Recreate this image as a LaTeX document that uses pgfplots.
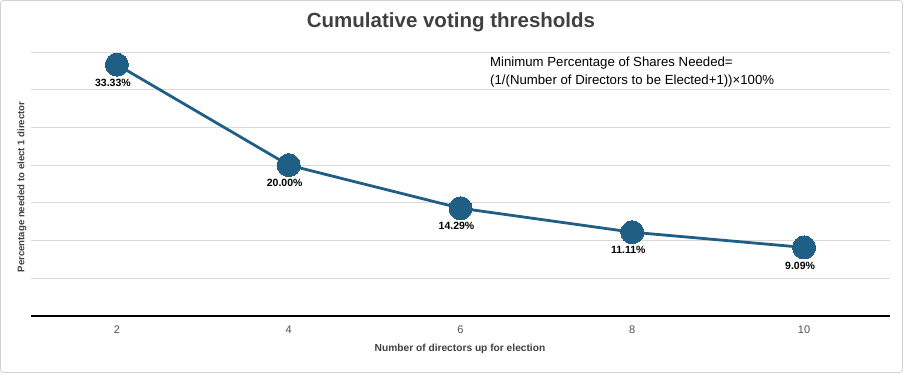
\documentclass[border=0pt]{standalone}
\usepackage{pgfplots}
\pgfplotsset{compat=1.18}
\usepackage{fontspec}
\setmainfont{Liberation Sans}
\definecolor{lineblue}{HTML}{1F5F86}
\definecolor{titlegray}{HTML}{404040}
\definecolor{gridgray}{HTML}{D9D9D9}
\definecolor{tickgray}{HTML}{505050}
\begin{document}
\begin{tikzpicture}[x=1pt,y=1pt]
\path (0,0) rectangle (903,373);
\draw[gray!35, line width=0.8pt, rounded corners=3pt] (0.5,0.5) rectangle (902.5,372.5);
\begin{axis}[
  at={(31pt,57pt)}, anchor=south west,
  scale only axis, width=859pt, height=264pt,
  xmin=1, xmax=11, ymin=0, ymax=35,
  xtick={2,4,6,8,10},
  ytick={0,5,10,15,20,25,30,35},
  yticklabels={},
  axis x line=bottom, axis y line=left,
  x axis line style={-, black, line width=1.4pt},
  y axis line style={draw=none},
  major tick style={draw=none},
  ymajorgrids, grid style={gridgray, line width=0.9pt},
  xticklabel style={font=\fontsize{11}{12}\selectfont, text=tickgray, yshift=-4pt},
  /pgf/number format/assume math mode=true,
  clip=false,
  point meta=explicit symbolic,
  nodes near coords,
  nodes near coords style={font=\bfseries\fontsize{10.5}{12}\selectfont, text=black, anchor=center, yshift=-18pt, xshift=-4pt},
]
\addplot[color=lineblue, line width=2.8pt, mark=*, mark size=11.5pt, mark options={fill=lineblue, draw=lineblue, line width=0pt}]
table[meta=label] {
x y label
2 33.33 33.33\%
4 20.00 20.00\%
6 14.29 14.29\%
8 11.11 11.11\%
10 9.09 9.09\%
};
\end{axis}
\node[text=titlegray, font=\bfseries\fontsize{20.5}{24}\selectfont] at (451,351) {Cumulative voting thresholds};
\node[anchor=north west, align=left, inner sep=0pt, font=\fontsize{13.2}{18}\selectfont] at (490,316) {Minimum Percentage of Shares Needed=\\(1/(Number of Directors to be Elected+1))×100\%};
\node[rotate=90, text=titlegray, font=\bfseries\fontsize{9.6}{11}\selectfont] at (22,186) {Percentage needed to elect 1 director};
\node[text=titlegray, font=\bfseries\fontsize{10.2}{12}\selectfont] at (460,24) {Number of directors up for election};
\end{tikzpicture}
\end{document}
